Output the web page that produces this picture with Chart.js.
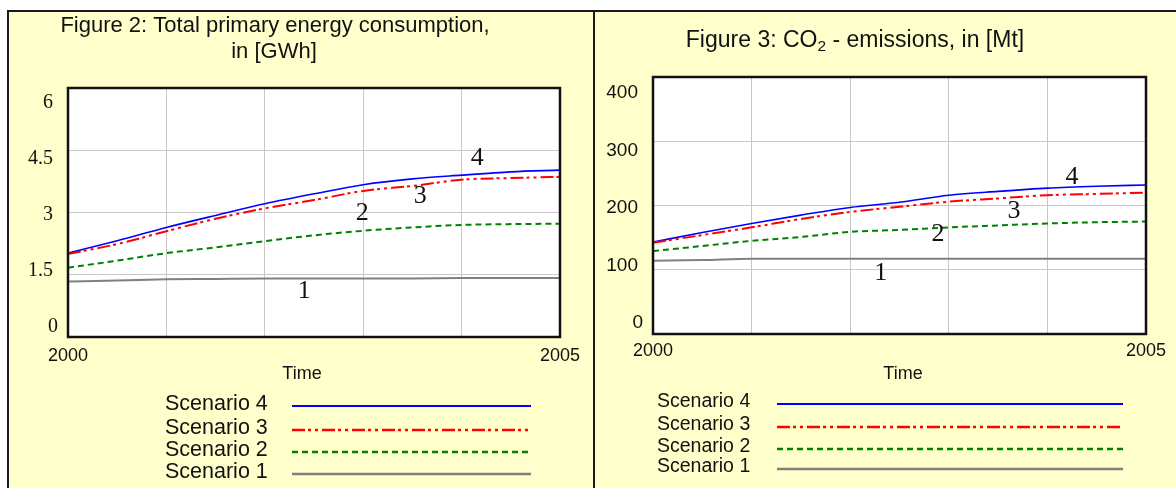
<!DOCTYPE html>
<html>
<head>
<meta charset="utf-8">
<script src="https://cdn.jsdelivr.net/npm/chart.js@4.4.1/dist/chart.umd.min.js"></script>
<style>
html,body{margin:0;padding:0;background:#ffffff;width:1176px;height:488px;overflow:hidden;position:relative;}
#frame{position:absolute;left:7px;top:10px;width:1180px;height:490px;background:#ffffcc;border-left:2px solid #1a1a1a;border-top:2px solid #1a1a1a;}
#divider{position:absolute;left:593px;top:10px;width:2px;height:480px;background:#1a1a1a;}
canvas{position:absolute;top:0;}
#c1{left:0;}
#c2{left:595px;}
</style>
</head>
<body>
<div id="frame"></div>
<div id="divider"></div>
<canvas id="c1" width="593" height="488"></canvas>
<canvas id="c2" width="581" height="488"></canvas>
<script>
// ---------- data ----------
const years = [2000, 2000.5, 2001, 2001.5, 2002, 2002.5, 2003, 2003.5, 2004, 2004.5, 2005];
const xTickLabels = [2000, 2005];
const scenarioNames = ['Scenario 1', 'Scenario 2', 'Scenario 3', 'Scenario 4'];

const energyS1 = [1.34, 1.36, 1.39, 1.40, 1.41, 1.41, 1.41, 1.41, 1.42, 1.42, 1.42];
const energyS2 = [1.67, 1.84, 2.02, 2.16, 2.31, 2.45, 2.56, 2.64, 2.70, 2.72, 2.73];
const energyS3 = [2.00, 2.24, 2.55, 2.85, 3.10, 3.30, 3.52, 3.64, 3.79, 3.83, 3.86];
const energyS4 = [2.02, 2.32, 2.64, 2.93, 3.21, 3.45, 3.67, 3.81, 3.90, 3.98, 4.02];
const energyTicks = [0, 1.5, 3, 4.5, 6];

const co2S1 = [114, 115, 117, 117, 117, 117, 117, 117, 117, 117, 117];
const co2S2 = [129, 137, 145, 151, 159, 162, 166, 169, 172, 174, 175];
const co2S3 = [142, 154, 166, 179, 190, 198, 206, 211, 216, 218, 220];
const co2S4 = [143, 158, 172, 185, 197, 205, 216, 222, 227, 230, 232];
const co2Ticks = [0, 100, 200, 300, 400];

// curve number labels (year, value)
const energyCurveLabels = [
  {x: 2002.40, y: 1.10, t: '1'},
  {x: 2002.99, y: 2.98, t: '2'},
  {x: 2003.58, y: 3.40, t: '3'},
  {x: 2004.16, y: 4.31, t: '4'}
];
const co2CurveLabels = [
  {x: 2002.31, y: 95, t: '1'},
  {x: 2002.89, y: 155, t: '2'},
  {x: 2003.66, y: 191, t: '3'},
  {x: 2004.25, y: 244, t: '4'}
];

// ---------- styles ----------
const SANS = '"Liberation Sans", Arial, sans-serif';
const SERIF = '"Liberation Serif", "Times New Roman", serif';
const styles = [
  {color: '#808080', width: 2, dash: []},
  {color: '#008000', width: 2, dash: [6, 4]},
  {color: '#ff0000', width: 2, dash: [13, 3, 3, 4, 3, 4]},
  {color: '#0000ff', width: 1.6, dash: []}
];

function series(vals) { return years.map((y, i) => ({x: y, y: vals[i]})); }

function makeDatasets(list) {
  return list.map((vals, i) => ({
    label: scenarioNames[i],
    data: series(vals),
    borderColor: styles[i].color,
    borderWidth: styles[i].width,
    borderDash: styles[i].dash,
    pointRadius: 0,
    fill: false,
    cubicInterpolationMode: 'monotone'
  }));
}

// ---------- plugins ----------
const framePlugin = {
  id: 'plotFrame',
  beforeDraw(chart) {
    const {ctx, chartArea: a} = chart;
    ctx.save();
    ctx.fillStyle = '#ffffff';
    ctx.fillRect(a.left, a.top, a.right - a.left, a.bottom - a.top);
    ctx.restore();
  },
  afterDatasetsDraw(chart) {
    const {ctx, chartArea: a} = chart;
    ctx.save();
    ctx.strokeStyle = '#111111';
    ctx.lineWidth = 2.5;
    ctx.strokeRect(a.left, a.top, a.right - a.left, a.bottom - a.top);
    ctx.restore();
  }
};

const decorPlugin = {
  id: 'decor',
  afterDraw(chart, args, o) {
    const {ctx, chartArea: a} = chart;
    const ys = chart.scales.y, xs = chart.scales.x;
    ctx.save();
    // y tick labels (spread between top and bottom like the original)
    ctx.fillStyle = '#111';
    ctx.font = o.yFont;
    ctx.textAlign = 'right';
    ctx.textBaseline = 'middle';
    const t0 = a.top + o.yTopOff, t1 = a.bottom - o.yBotOff;
    ys.ticks.forEach(tk => {
      const f = (ys.max - tk.value) / (ys.max - ys.min);
      const y = t0 + (t1 - t0) * f;
      const x = a.left - 15 + (tk.value === ys.min ? 5 : 0);
      ctx.fillText(o.yFmt(tk.value), x, y);
    });
    // axis title
    ctx.font = o.timeFont;
    ctx.textAlign = 'center';
    ctx.fillText(o.xTitle, o.xTitleX, o.xTitleY);
    // curve number labels
    ctx.font = '26px ' + SERIF;
    ctx.textBaseline = 'middle';
    o.curveLabels.forEach(l => {
      ctx.fillText(l.t, xs.getPixelForValue(l.x), ys.getPixelForValue(l.y));
    });
    // chart title
    ctx.textBaseline = 'alphabetic';
    ctx.font = o.titleFont;
    o.titleLines.forEach(line => {
      const parts = line.parts;
      let total = 0;
      parts.forEach(p => { ctx.font = p.sub ? o.subFont : o.titleFont; p.w = ctx.measureText(p.s).width; total += p.w; });
      let x = line.cx - total / 2;
      ctx.textAlign = 'left';
      parts.forEach(p => {
        ctx.font = p.sub ? o.subFont : o.titleFont;
        ctx.fillText(p.s, x, line.y + (p.sub ? 4 : 0));
        x += p.w;
      });
    });
    // legend (scenario 4 on top)
    const ds = chart.data.datasets;
    ctx.textBaseline = 'middle';
    ctx.textAlign = 'left';
    ctx.font = o.legendFont;
    for (let k = 0; k < ds.length; k++) {
      const d = ds[ds.length - 1 - k];
      const ly = o.legendRows[k];
      ctx.fillStyle = '#111';
      ctx.fillText(d.label, o.legendTextX, ly - 2);
      ctx.beginPath();
      ctx.strokeStyle = d.borderColor;
      ctx.lineWidth = d.borderWidth + 0.4;
      ctx.setLineDash(d.borderDash);
      ctx.moveTo(o.legendLine[0], ly);
      ctx.lineTo(o.legendLine[1], ly);
      ctx.stroke();
      ctx.setLineDash([]);
    }
    ctx.restore();
  }
};

function makeChart(id, cfg) {
  const canvas = document.getElementById(id);
  const W = canvas.width, H = canvas.height;
  const XH = 40;
  const A = cfg.area;
  return new Chart(canvas, {
    type: 'line',
    data: {datasets: makeDatasets(cfg.values)},
    options: {
      responsive: false,
      animation: false,
      devicePixelRatio: 1,
      layout: {padding: {left: A.left, top: A.top, right: W - A.right, bottom: H - A.bottom - XH}},
      plugins: {
        legend: {display: false},
        title: {display: false},
        tooltip: {enabled: false},
        decor: cfg.decor
      },
      scales: {
        x: {
          type: 'linear',
          min: years[0], max: years[years.length - 1],
          afterBuildTicks: s => { s.ticks = years.filter(y => Number.isInteger(y)).map(v => ({value: v})); },
          ticks: {
            autoSkip: false, maxRotation: 0,
            callback: v => xTickLabels.includes(v) ? String(v) : '',
            font: {family: SANS, size: 18}, color: '#111', padding: cfg.xPad
          },
          grid: {color: '#c8c8c8', lineWidth: 1, drawTicks: false},
          border: {display: false},
          afterFit: s => { s.height = XH; }
        },
        y: {
          type: 'linear',
          min: cfg.yTicks[0], max: cfg.yTicks[cfg.yTicks.length - 1],
          afterBuildTicks: s => { s.ticks = cfg.yTicks.map(v => ({value: v})); },
          ticks: {display: false},
          grid: {color: '#c8c8c8', lineWidth: 1, drawTicks: false},
          border: {display: false},
          afterFit: s => { s.width = 0; }
        }
      }
    },
    plugins: [framePlugin, decorPlugin]
  });
}

makeChart('c1', {
  area: {left: 68, top: 88, right: 560, bottom: 337},
  values: [energyS1, energyS2, energyS3, energyS4],
  yTicks: energyTicks,
  xPad: 8,
  decor: {
    yFont: '20px ' + SERIF, yTopOff: 15, yBotOff: 10, yFmt: v => String(v),
    timeFont: '18px ' + SANS, xTitle: 'Time', xTitleX: 302, xTitleY: 374,
    curveLabels: energyCurveLabels,
    titleFont: '22px ' + SANS, subFont: '15px ' + SANS,
    titleLines: [
      {cx: 275, y: 32, parts: [{s: 'Figure 2: Total primary energy consumption,'}]},
      {cx: 274, y: 58, parts: [{s: 'in [GWh]'}]}
    ],
    legendFont: '21.5px ' + SANS, legendTextX: 165,
    legendRows: [406, 430, 452, 474], legendLine: [292, 531]
  }
});

makeChart('c2', {
  area: {left: 58, top: 77, right: 551, bottom: 334},
  values: [co2S1, co2S2, co2S3, co2S4],
  yTicks: co2Ticks,
  xPad: 6,
  decor: {
    yFont: '19px ' + SANS, yTopOff: 16, yBotOff: 11, yFmt: v => String(v),
    timeFont: '18px ' + SANS, xTitle: 'Time', xTitleX: 308, xTitleY: 374,
    curveLabels: co2CurveLabels,
    titleFont: '23px ' + SANS, subFont: '15.5px ' + SANS,
    titleLines: [
      {cx: 260, y: 47, parts: [{s: 'Figure 3: CO'}, {s: '2', sub: true}, {s: ' - emissions, in [Mt]'}]}
    ],
    legendFont: '19.5px ' + SANS, legendTextX: 62,
    legendRows: [404, 427, 449, 469], legendLine: [182, 528]
  }
});
</script>
</body>
</html>
